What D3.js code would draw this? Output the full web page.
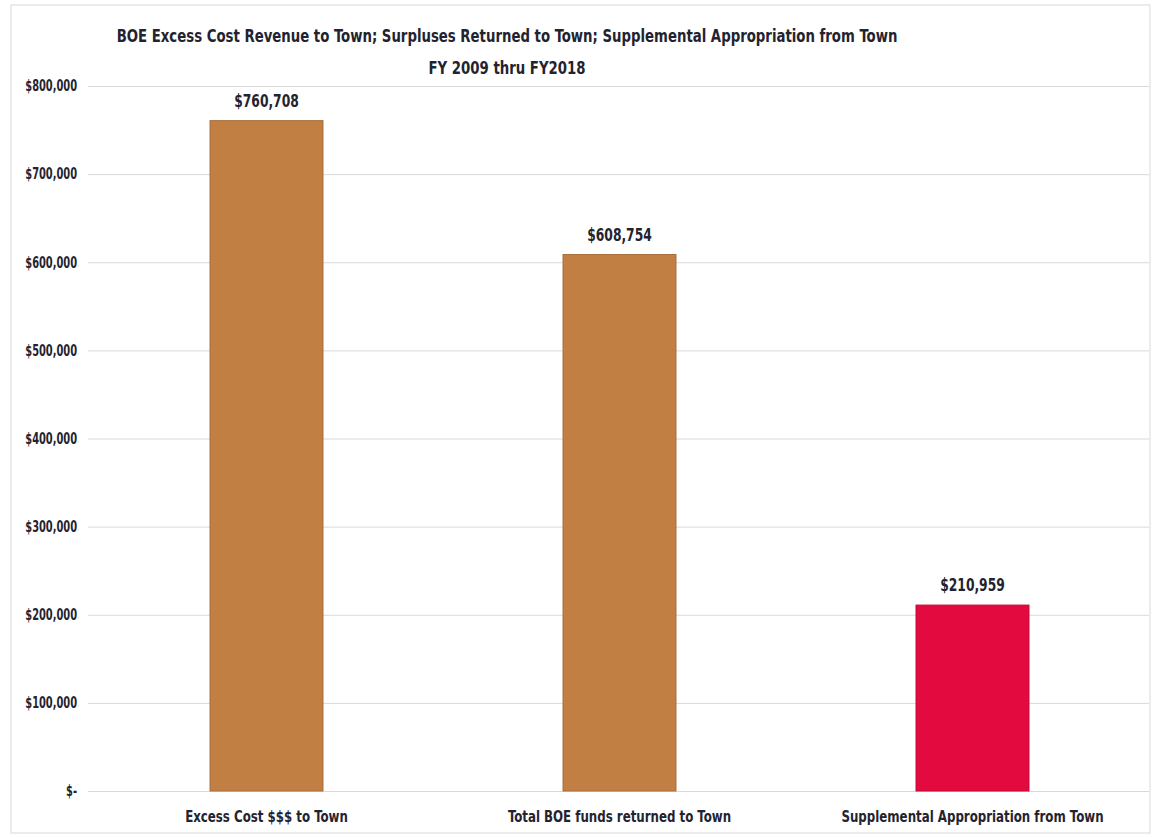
<!DOCTYPE html>
<html>
<head>
<meta charset="utf-8">
<script src="https://cdn.jsdelivr.net/npm/d3@7"></script>
<style>
  body { margin: 0; background: #fff; }
  text { font-family: 'Liberation Sans Narrow', 'DejaVu Sans Condensed', sans-serif; font-weight: bold; fill: #23232f; }
</style>
</head>
<body>
<div id="chart"></div>
<script>
// data
const categories = ["Excess Cost $$$ to Town", "Total BOE funds returned to Town", "Supplemental Appropriation from Town"];
const amounts = [760708, 608754, 210959];
const barColors = ["#c27f44", "#c27f44", "#e20a3e"];
const yTicks = [0, 100000, 200000, 300000, 400000, 500000, 600000, 700000, 800000];
const titleLines = ["BOE Excess Cost Revenue to Town; Surpluses Returned to Town; Supplemental Appropriation from Town", "FY 2009 thru FY2018"];

const W = 1152, H = 837;
const margin = { top: 86, right: 3, bottom: 46, left: 88 };

// the original font is narrower than anything installed, so squeeze glyphs a bit
function squeeze(sel, k) {
  sel.each(function () {
    const w = this.getComputedTextLength();
    d3.select(this).attr("textLength", w * k).attr("lengthAdjust", "spacingAndGlyphs");
  });
}

const svg = d3.select("#chart")
  .append("svg")
  .attr("width", W)
  .attr("height", H);

// outer frame of the chart area
svg.append("rect")
  .attr("x", 11).attr("y", 5)
  .attr("width", W - 13).attr("height", 828)
  .attr("fill", "none")
  .attr("stroke", "#d9d9d9");

const x = d3.scaleBand()
  .domain(categories)
  .range([margin.left + 2, W - margin.right])
  .paddingInner(0.68)
  .paddingOuter(0.34);

const y = d3.scaleLinear()
  .domain([0, 800000])
  .range([H - margin.bottom, margin.top]);

// gridlines + y labels
const fmt = d3.format("$,");
const yAxis = svg.append("g")
  .attr("transform", `translate(${margin.left},0)`)
  .call(d3.axisLeft(y)
    .tickValues(yTicks)
    .tickSize(-(W - margin.left - margin.right))
    .tickPadding(11)
    .tickFormat(d => d === 0 ? "$-" : fmt(d)));
yAxis.select(".domain").remove();
yAxis.selectAll(".tick line").attr("stroke", "#d9d9d9");
yAxis.selectAll(".tick text")
  .style("font-size", "15px")
  .attr("fill", "#23232f")
  .call(squeeze, 0.73);

// bars
const data = categories.map((c, i) => ({ name: c, value: amounts[i], color: barColors[i] }));

svg.selectAll("rect.bar")
  .data(data)
  .join("rect")
  .attr("class", "bar")
  .attr("x", d => x(d.name))
  .attr("y", d => y(d.value))
  .attr("width", x.bandwidth())
  .attr("height", d => y(0) - y(d.value))
  .attr("fill", d => d.color)
  .attr("stroke", d => d3.color(d.color).darker(0.4))
  .attr("stroke-width", 1);

// value labels
svg.selectAll("text.val")
  .data(data)
  .join("text")
  .attr("class", "val")
  .attr("x", d => x(d.name) + x.bandwidth() / 2)
  .attr("y", d => y(d.value) - 14)
  .attr("text-anchor", "middle")
  .style("font-size", "18px")
  .text(d => fmt(d.value))
  .call(squeeze, 0.76);

// category labels
svg.append("g")
  .attr("transform", `translate(0,${H - margin.bottom})`)
  .call(d3.axisBottom(x).tickSize(0).tickPadding(20))
  .call(g => g.select(".domain").remove())
  .selectAll("text")
  .style("font-size", "16px")
  .attr("fill", "#23232f")
  .call(squeeze, 0.82);

// title
svg.selectAll("text.title")
  .data(titleLines)
  .join("text")
  .attr("class", "title")
  .attr("x", 507)
  .attr("y", (d, i) => 42 + i * 32)
  .attr("text-anchor", "middle")
  .style("font-size", "18px")
  .text(d => d)
  .call(squeeze, 0.82);
</script>
</body>
</html>
